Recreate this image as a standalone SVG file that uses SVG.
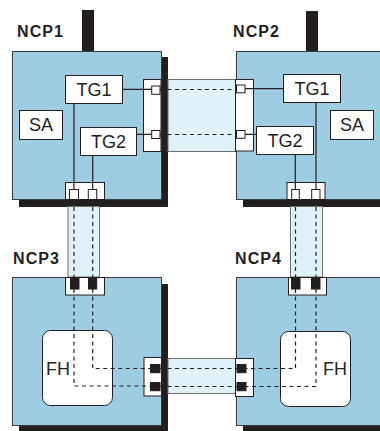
<svg xmlns="http://www.w3.org/2000/svg" width="380" height="431" viewBox="0 0 380 431">
<style>
.box{fill:#9ecde3;stroke:#3a3a3a;stroke-width:1}
.sh{fill:#231f20}
.wb{fill:#fff;stroke:#231f20;stroke-width:1}
.port{fill:#fff;stroke:#231f20;stroke-width:1}
.bp{fill:#231f20;stroke:#231f20;stroke-width:1}
.band{fill:#dff1f9;stroke:#6d6d6d;stroke-width:1}
.ln{stroke:#231f20;stroke-width:1.2;fill:none}
.dl{stroke:#231f20;stroke-width:1.2;fill:none;stroke-dasharray:4,3.5}
.lbl{font-family:"Liberation Sans",Arial,sans-serif;font-weight:bold;font-size:16px;fill:#231f20}
.t{font-family:"Liberation Sans",Arial,sans-serif;font-size:18px;fill:#231f20;text-anchor:middle}
</style>
<rect width="380" height="431" fill="#fff"/>
<!-- NCP1 -->
<g id="NCP1">
<rect class="sh" x="82" y="10" width="12" height="42"/>
<rect class="sh" x="19" y="57" width="149" height="150"/>
<rect class="box" x="12.5" y="51.5" width="149" height="148"/>
<text class="lbl" x="17" y="37" textLength="46">NCP1</text>
<rect class="wb" x="65.5" y="75.5" width="57" height="28"/>
<text class="t" x="94" y="96">TG1</text>
<rect class="wb" x="80.5" y="127.5" width="56" height="28"/>
<text class="t" x="108.5" y="148">TG2</text>
<rect class="wb" x="19.5" y="110.5" width="43" height="29"/>
<text class="t" x="41" y="131">SA</text>
</g>
<!-- NCP2 -->
<g id="NCP2">
<rect class="sh" x="306" y="11" width="12" height="41"/>
<rect class="sh" x="243" y="57" width="150" height="150"/>
<rect class="box" x="236.5" y="51.5" width="150" height="148"/>
<text class="lbl" x="233" y="37" textLength="46">NCP2</text>
<rect class="wb" x="283.5" y="74.5" width="57" height="28"/>
<text class="t" x="312" y="95">TG1</text>
<rect class="wb" x="256.5" y="126.5" width="57" height="28"/>
<text class="t" x="285" y="147">TG2</text>
<rect class="wb" x="330.5" y="110.5" width="43" height="29"/>
<text class="t" x="352" y="131">SA</text>
</g>
<!-- NCP3 -->
<g id="NCP3">
<rect class="sh" x="19" y="284" width="149" height="150"/>
<rect class="box" x="12.5" y="277.5" width="149" height="148"/>
<text class="lbl" x="13" y="264" textLength="46">NCP3</text>
<rect class="wb" x="42.5" y="330.5" width="70" height="75" rx="8"/>
<text class="t" x="58" y="375">FH</text>
</g>
<!-- NCP4 -->
<g id="NCP4">
<rect class="sh" x="243" y="284" width="150" height="150"/>
<rect class="box" x="236.5" y="277.5" width="150" height="148"/>
<text class="lbl" x="235" y="264" textLength="46">NCP4</text>
<rect class="wb" x="280.5" y="331.5" width="70" height="75" rx="8"/>
<text class="t" x="335" y="375">FH</text>
</g>
<!-- connectors -->
<g id="connectors">
<!-- bands -->
<rect class="band" x="168" y="79.5" width="68" height="72"/>
<rect class="band" x="168" y="358.5" width="68" height="35"/>
<rect class="band" x="68" y="206.5" width="31.5" height="70.5"/>
<rect class="band" x="290.5" y="206.5" width="32" height="70.5"/>
<!-- port boxes -->
<rect class="port" x="143.5" y="79.5" width="17.5" height="72"/>
<rect class="port" x="235.5" y="79.5" width="18" height="71.5"/>
<rect class="port" x="65.5" y="182.5" width="39" height="17"/>
<rect class="port" x="287" y="182.5" width="38" height="17"/>
<rect class="port" x="65.5" y="277.5" width="39" height="17.5"/>
<rect class="port" x="288.5" y="277.5" width="38" height="17.5"/>
<rect class="port" x="144" y="357.5" width="17.5" height="38.5"/>
<rect class="port" x="235.5" y="358.5" width="18" height="38"/>
<!-- solid lines -->
<path class="ln" d="M74 103.5V189.5M92.7 155.5V189.5M122.5 89.3H151.7M136.5 134.3H151.7"/>
<path class="ln" d="M245 88.7H283.5M245 134.3H256.5M316 102.5V189.5M295.3 154.5V189.5"/>
<!-- dashed lines -->
<path class="dl" d="M160 89.5H236M160 134.5H236"/>
<path class="dl" d="M74 199.5V278M92.7 199.5V278M295.5 199.5V278M316 199.5V278"/>
<path class="dl" d="M74 289V386H150M92.7 289V368.5H150"/>
<path class="dl" d="M160 368.5H237M160 386.5H237"/>
<path class="dl" d="M295.5 289V368.5H246M316 289V386.5H246"/>
<!-- white squares -->
<rect class="port" x="151.7" y="86" width="8.3" height="8.3"/>
<rect class="port" x="151.7" y="130.5" width="8.3" height="8"/>
<rect class="port" x="236.5" y="85" width="8.5" height="7.8"/>
<rect class="port" x="236.5" y="130.5" width="8.5" height="7.8"/>
<rect class="port" x="69.5" y="189.5" width="9" height="10"/>
<rect class="port" x="88.3" y="189.5" width="8.4" height="10"/>
<rect class="port" x="291.7" y="189.5" width="7.6" height="10"/>
<rect class="port" x="311.7" y="189.5" width="8.3" height="10"/>
<!-- black squares -->
<rect class="bp" x="70.5" y="278.5" width="8.5" height="10.5"/>
<rect class="bp" x="88.5" y="278.5" width="8.2" height="10.5"/>
<rect class="bp" x="291.5" y="278.5" width="8.5" height="10.5"/>
<rect class="bp" x="311.5" y="278.5" width="8.5" height="10.5"/>
<rect class="bp" x="150.5" y="364.5" width="9.5" height="8.2"/>
<rect class="bp" x="150.5" y="382.5" width="9.5" height="8.2"/>
<rect class="bp" x="237" y="364.5" width="9" height="8.2"/>
<rect class="bp" x="237" y="382.5" width="9" height="8.2"/>
</g>
</svg>
